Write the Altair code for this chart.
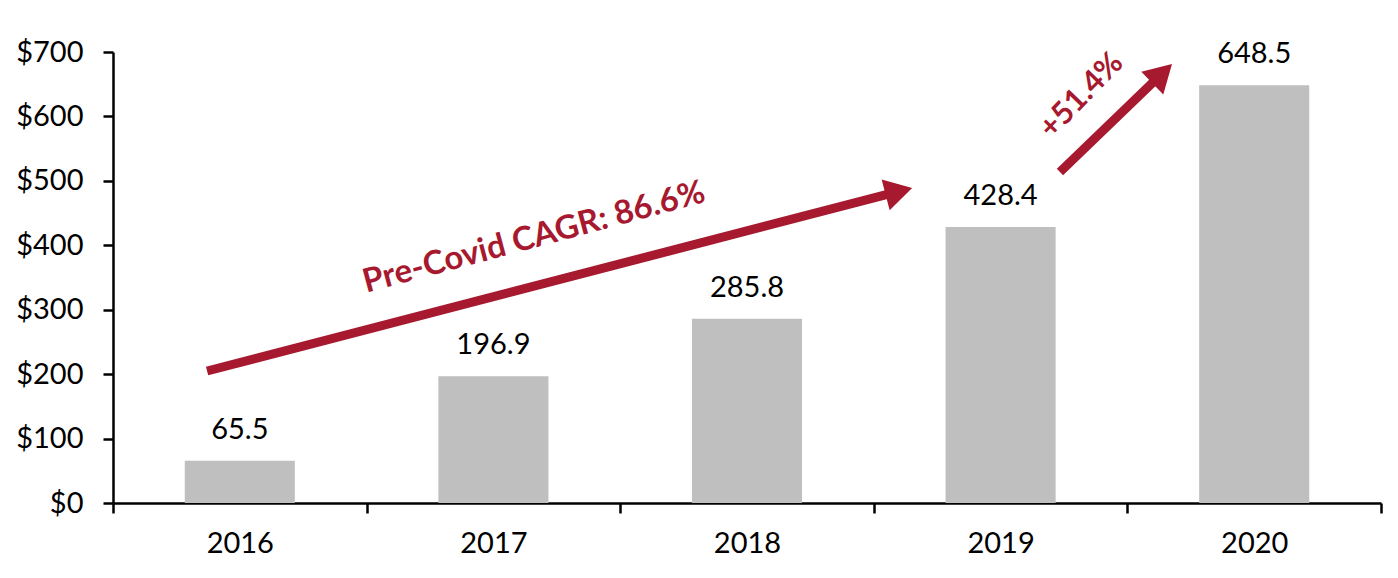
import altair as alt
import pandas as pd

years = ["2016", "2017", "2018", "2019", "2020"]
values = [65.5, 196.9, 285.8, 428.4, 648.5]
labels = ["65.5", "196.9", "285.8", "428.4", "648.5"]

# annotation arrows on a 0..5 category-position scale (category i centred at i+0.5)
arrow_id = ["cagr", "cagr", "covid", "covid"]
arrow_pos = [0.371, 3.099, 3.734, 4.137]
arrow_val = [204.9, 483.6, 513.7, 666.6]

head_pos = [3.099, 4.137]
head_val = [483.6, 666.6]
head_angle = [75.4, 46.0]

note_text = ["Pre-Covid CAGR: 86.6%", "+51.4%"]
note_pos = [1.66, 3.82]
note_val = [412, 632]
note_angle = [345, 314]
note_size = [33, 31]

RED = "#A6192E"
FONT = "Lato"

bars_df = pd.DataFrame({"year": years, "value": values, "label": labels})
arrow_df = pd.DataFrame({"id": arrow_id, "pos": arrow_pos, "val": arrow_val})
head_df = pd.DataFrame({"pos": head_pos, "val": head_val, "angle": head_angle})
note_df = pd.DataFrame({"text": note_text, "pos": note_pos, "val": note_val,
                        "angle": note_angle, "size": note_size})

yscale = alt.Scale(domain=[0, 700], nice=False)

x_band = alt.X(
    "year:N",
    sort=years,
    scale=alt.Scale(paddingInner=0, paddingOuter=0),
    axis=alt.Axis(
        title=None, labelAngle=0, tickBand="extent", tickSize=10, tickWidth=2.5,
        tickColor="black", domainColor="black", domainWidth=2.5,
        labelFont=FONT, labelFontSize=29, labelColor="black", labelPadding=16,
    ),
)

bars = alt.Chart(bars_df).mark_bar(color="#BFBFBF", width=alt.RelativeBandSize(0.434)).encode(
    x=x_band,
    y=alt.Y(
        "value:Q", scale=yscale,
        axis=alt.Axis(
            title=None, values=[0, 100, 200, 300, 400, 500, 600, 700],
            labelExpr="'$' + datum.value", grid=False, tickSize=10, tickWidth=2.5,
            tickColor="black", domainColor="black", domainWidth=2.5,
            labelFont=FONT, labelFontSize=29, labelColor="black", labelPadding=20,
        ),
    ),
)

texts = alt.Chart(bars_df).mark_text(
    baseline="bottom", dy=-16, font=FONT, fontSize=29, color="black"
).encode(x=alt.X("year:N", sort=years), y=alt.Y("value:Q", scale=yscale), text="label:N")

base_layer = alt.layer(bars, texts)

xq = alt.X("pos:Q", scale=alt.Scale(domain=[0, 5], nice=False, zero=False), axis=None)
yq = alt.Y("val:Q", scale=yscale, axis=None)

lines = alt.Chart(arrow_df).mark_line(color=RED, strokeWidth=9, strokeCap="butt").encode(
    x=xq, y=yq, detail="id:N"
)

heads = alt.Chart(head_df).mark_point(
    shape="triangle-up", filled=True, color=RED, size=1000, opacity=1
).encode(x=xq, y=yq, angle=alt.Angle("angle:Q", scale=None))

notes = alt.Chart(note_df).mark_text(
    font=FONT, fontWeight="bold", color=RED, align="center", baseline="middle"
).encode(
    x=xq, y=yq, text="text:N",
    angle=alt.Angle("angle:Q", scale=None),
    size=alt.Size("size:Q", scale=None),
)

annot = alt.layer(lines, heads, notes)

chart = alt.layer(base_layer, annot).resolve_scale(x="independent", y="independent").properties(
    width=1268, height=451,
    background="white",
    autosize=alt.AutoSizeParams(type="none"),
    padding={"left": 105, "top": 44, "right": 9, "bottom": 67},
).configure_view(stroke=None, strokeWidth=0)

chart.save("out.html", embed_options={"renderer": "svg", "actions": False})
